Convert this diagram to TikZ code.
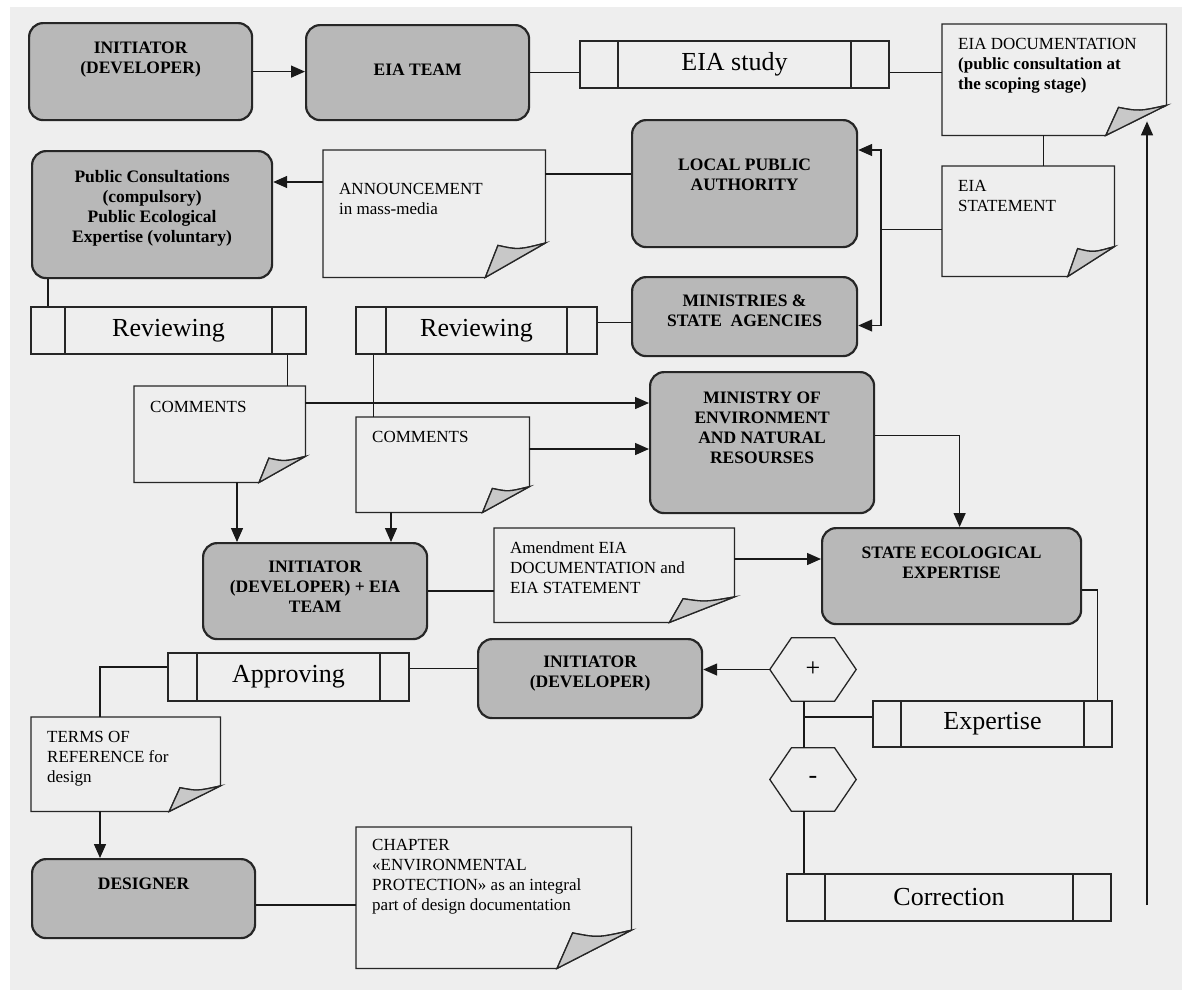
\documentclass[tikz,border=0pt]{standalone}
\usepackage{fontspec}
\setmainfont{Liberation Serif}
\usetikzlibrary{arrows.meta,calc}

\definecolor{bgcol}{HTML}{EEEEEE}
\definecolor{boxgray}{HTML}{B8B8B8}
\definecolor{curlgray}{HTML}{C8C8C8}

\newcommand{\boxfont}{\fontsize{17.5}{20}\selectfont\bfseries}
\newcommand{\docfont}{\fontsize{17}{20}\selectfont}
\newcommand{\procfont}{\fontsize{26}{30}\selectfont}
% text blocks: width, height, top gap, text
\newcommand{\boxtxt}[4]{\parbox[b][#2pt][t]{#1pt}{\centering\vspace*{#3pt}#4}}
\newcommand{\doctxt}[4]{\parbox[b][#2pt][t]{#1pt}{\vspace*{#3pt}\raggedright\leftskip=16pt #4}}
% sheet outline with the turned corner
\newcommand{\docshape}[1]{%
  \draw[docline] let \p1=(#1.south west), \p2=(#1.north east),
      \n1={0.27*(\x2-\x1)}, \n2={0.27*(\y2-\y1)} in
    (#1.north west) -- (#1.north east) -- (\x2,\y1+\n2) -- (\x2-\n1,\y1) -- (#1.south west) -- cycle
    (\x2-\n1,\y1) -- (\x2-0.79*\n1,\y1+0.93*\n2) .. controls (\x2-0.45*\n1,\y1+0.8*\n2) .. (\x2,\y1+\n2);
  \fill[curlgray] let \p1=(#1.south west), \p2=(#1.north east),
      \n1={0.27*(\x2-\x1)}, \n2={0.27*(\y2-\y1)} in
    (\x2-\n1,\y1) -- (\x2-0.79*\n1,\y1+0.93*\n2) .. controls (\x2-0.45*\n1,\y1+0.8*\n2) .. (\x2,\y1+\n2) -- cycle;
  \draw[docline] let \p1=(#1.south west), \p2=(#1.north east),
      \n1={0.27*(\x2-\x1)}, \n2={0.27*(\y2-\y1)} in
    (\x2-\n1,\y1) -- (\x2-0.79*\n1,\y1+0.93*\n2) .. controls (\x2-0.45*\n1,\y1+0.8*\n2) .. (\x2,\y1+\n2) -- cycle;}
\newcommand{\hexshape}[1]{%
  \draw[docline] (#1.west) -- ($(#1.north west)!0.25!(#1.north east)$) -- ($(#1.north west)!0.75!(#1.north east)$)
    -- (#1.east) -- ($(#1.south west)!0.75!(#1.south east)$) -- ($(#1.south west)!0.25!(#1.south east)$) -- cycle;}

\begin{document}
\begin{tikzpicture}[x=1pt,y=-1pt,
    conn/.style={line width=1.4pt, black!90},
    arr/.style={-{Triangle[length=14pt,width=12pt]}},
    graybox/.style={draw=black!85, line width=2.2pt, fill=boxgray, rounded corners=14pt,
      inner sep=0pt, anchor=north west, font=\boxfont},
    docnode/.style={inner sep=0pt, anchor=north west, font=\docfont},
    docline/.style={line width=1.3pt, black!85},
    procbox/.style={draw=black!85, line width=1.3pt, inner sep=0pt, font=\procfont,
      path picture={\draw[line width=1.3pt, black!85]
        ([xshift=#1pt]path picture bounding box.north west) -- ([xshift=#1pt]path picture bounding box.south west)
        ([xshift=-#1pt]path picture bounding box.north east) -- ([xshift=-#1pt]path picture bounding box.south east);}},
    hexnode/.style={minimum width=86pt, minimum height=63pt, inner sep=0pt, font=\procfont}]

    \useasboundingbox (0,0) rectangle (1182,994);
    \fill[bgcol] (10,7) rectangle (1182,990);

    % gray boxes
    \node[graybox] (init) at (28,22) {\boxtxt{223}{97}{19}{INITIATOR\\(DEVELOPER)}};
    \node[graybox] (team) at (305,24) {\boxtxt{223}{95}{38.5}{EIA TEAM}};
    \node[graybox] (public) at (31,150) {\boxtxt{240}{127}{19.5}{Public Consultations\\(compulsory)\\Public Ecological\\Expertise (voluntary)}};
    \node[graybox] (local) at (631,119) {\boxtxt{225}{127}{38.5}{LOCAL PUBLIC\\AUTHORITY}};
    \node[graybox] (minis) at (631,276) {\boxtxt{225}{79}{17.5}{MINISTRIES \&\\STATE\ \ AGENCIES}};
    \node[graybox] (moe) at (649,371) {\boxtxt{224}{141}{19.5}{MINISTRY OF\\ENVIRONMENT\\AND NATURAL\\RESOURSES}};
    \node[graybox] (inteam) at (202,542) {\boxtxt{224}{96}{17.5}{INITIATOR\\(DEVELOPER) + EIA\\TEAM}};
    \node[graybox] (state) at (821,527) {\boxtxt{259}{96}{18.5}{STATE ECOLOGICAL\\EXPERTISE}};
    \node[graybox] (init2) at (477,638) {\boxtxt{224}{79}{16.5}{INITIATOR\\(DEVELOPER)}};
    \node[graybox] (designer) at (31,858) {\boxtxt{223}{79}{19}{DESIGNER}};

    % documents
    \node[docnode] (annc) at (323,150) {\doctxt{222}{127}{33.5}{ANNOUNCEMENT\\in mass-media}};
    \node[docnode] (eiadoc) at (942,24) {\doctxt{224}{111}{13.7}{EIA DOCUMENTATION\\\textbf{(public consultation at}\\\textbf{the scoping stage)}}};
    \node[docnode] (eiastat) at (942,166) {\doctxt{172}{110}{13.7}{EIA\\STATEMENT}};
    \node[docnode] (com1) at (134,386) {\doctxt{171}{96}{15}{COMMENTS}};
    \node[docnode] (com2) at (356,417) {\doctxt{173}{95}{13.7}{COMMENTS}};
    \node[docnode] (amend) at (494,528) {\doctxt{240}{94}{13.4}{Amendment EIA\\DOCUMENTATION and\\EIA STATEMENT}};
    \node[docnode] (terms) at (31,717) {\doctxt{189}{94}{13.7}{TERMS OF\\REFERENCE for\\design}};
    \node[docnode] (chapter) at (356,827) {\doctxt{275}{141}{12}{CHAPTER\\«ENVIRONMENTAL\\PROTECTION» as an integral\\part of design documentation}};
    \foreach \d in {annc,eiadoc,eiastat,com1,com2,amend,terms,chapter}
      \docshape{\d};

    % processes
    \node[procbox=38, minimum width=309pt, minimum height=47pt] (study) at (734.5,64.5) {EIA study};
    \node[procbox=34, minimum width=275pt, minimum height=47pt] (rev1) at (168.5,330.5) {Reviewing};
    \node[procbox=30, minimum width=241pt, minimum height=47pt] (rev2) at (476.5,330.5) {Reviewing};
    \node[procbox=29, minimum width=241pt, minimum height=48pt] (approv) at (288.5,677) {Approving};
    \node[procbox=28, minimum width=239pt, minimum height=46pt] (expert) at (992.5,724) {Expertise};
    \node[procbox=38, minimum width=324pt, minimum height=47pt] (correct) at (949,897.5) {Correction};

    % decisions
    \node[hexnode] (plus) at (813,669.5) {+};
    \node[hexnode] (minus) at (813,779.5) {-};
    \hexshape{plus}
    \hexshape{minus}

    % connectors
    \draw[conn,arr] (init.east) -- (init.east -| team.west);
    \draw[conn] (team.east) -- (team.east -| study.west);
    \draw[conn] (study.east |- team.east) -- (team.east -| eiadoc.west);
    \coordinate (dj) at ([xshift=-11pt]eiadoc.south);
    \draw[conn] (dj) -- (dj |- eiastat.north);
    \coordinate (sj) at ([yshift=-8pt]eiastat.west);
    \coordinate (bus) at ([xshift=-61pt]sj);
    \draw[conn] (sj) -- (bus);
    \draw[conn,arr] (bus) |- ([yshift=-31pt]local.north east);
    \draw[conn,arr] (bus) |- ([yshift=31.7pt]minis.south east);
    \coordinate (a1) at ([yshift=-24pt]annc.north east);
    \draw[conn] (a1) -- (a1 -| local.west);
    \coordinate (a2) at ([yshift=-32pt]annc.north west);
    \draw[conn,arr] (a2) -- (a2 -| public.east);
    \coordinate (p1) at ([xshift=17pt]public.south west);
    \draw[conn] (p1) -- (p1 |- rev1.north);
    \coordinate (r2) at ([yshift=-16pt]rev2.north east);
    \draw[conn] (r2) -- (r2 -| minis.west);
    \coordinate (r1) at ([xshift=-19pt]rev1.south east);
    \draw[conn] (r1) -- (r1 |- com1.north);
    \coordinate (r3) at ([xshift=18pt]rev2.south west);
    \draw[conn] (r3) -- (r3 |- com2.north);
    \coordinate (c1) at ([yshift=-17pt]com1.north east);
    \draw[conn,arr] (c1) -- (c1 -| moe.west);
    \coordinate (c2) at ([yshift=-32pt]com2.north east);
    \draw[conn,arr] (c2) -- (c2 -| moe.west);
    \coordinate (c3) at ([xshift=103pt]com1.south west);
    \draw[conn,arr] (c3) -- (c3 |- inteam.north);
    \coordinate (c4) at ([xshift=35pt]com2.south west);
    \draw[conn,arr] (c4) -- (c4 |- inteam.north);
    \draw[conn] (inteam.east) -- (inteam.east -| amend.west);
    \coordinate (m1) at ([yshift=-31pt]amend.north east);
    \draw[conn,arr] (m1) -- (m1 -| state.west);
    \draw[conn,arr] ([yshift=7pt]moe.east) -| ([xshift=8pt]state.north);
    \draw[conn] ([yshift=-14pt]state.east) -| ([xshift=-15pt]expert.north east);
    \coordinate (hx) at ([xshift=-9pt]plus.south);
    \draw[conn] (hx) -- (hx |- minus.north);
    \coordinate (hy) at ([xshift=-9pt]minus.south);
    \draw[conn] (hy) -- (hy |- correct.north);
    \coordinate (e1) at ([yshift=7pt]expert.west);
    \draw[conn] (e1) -- (e1 -| hx);
    \draw[conn,arr] (plus.west) -- (plus.west -| init2.east);
    \coordinate (i2) at ([yshift=10pt]init2.west);
    \draw[conn] (i2) -- (i2 -| approv.east);
    \draw[conn] ([yshift=10pt]approv.west) -| ([xshift=69pt]terms.north west);
    \coordinate (t1) at ([xshift=69pt]terms.south west);
    \draw[conn,arr] (t1) -- (t1 |- designer.north);
    \coordinate (d1) at ([yshift=-6.5pt]designer.east);
    \draw[conn] (d1) -- (d1 -| chapter.west);
    \coordinate (back) at (1147,905);
    \coordinate (backtip) at ([yshift=14pt]eiadoc.south east);
    \draw[conn,arr] (back) -- (back |- backtip);
\end{tikzpicture}
\end{document}
